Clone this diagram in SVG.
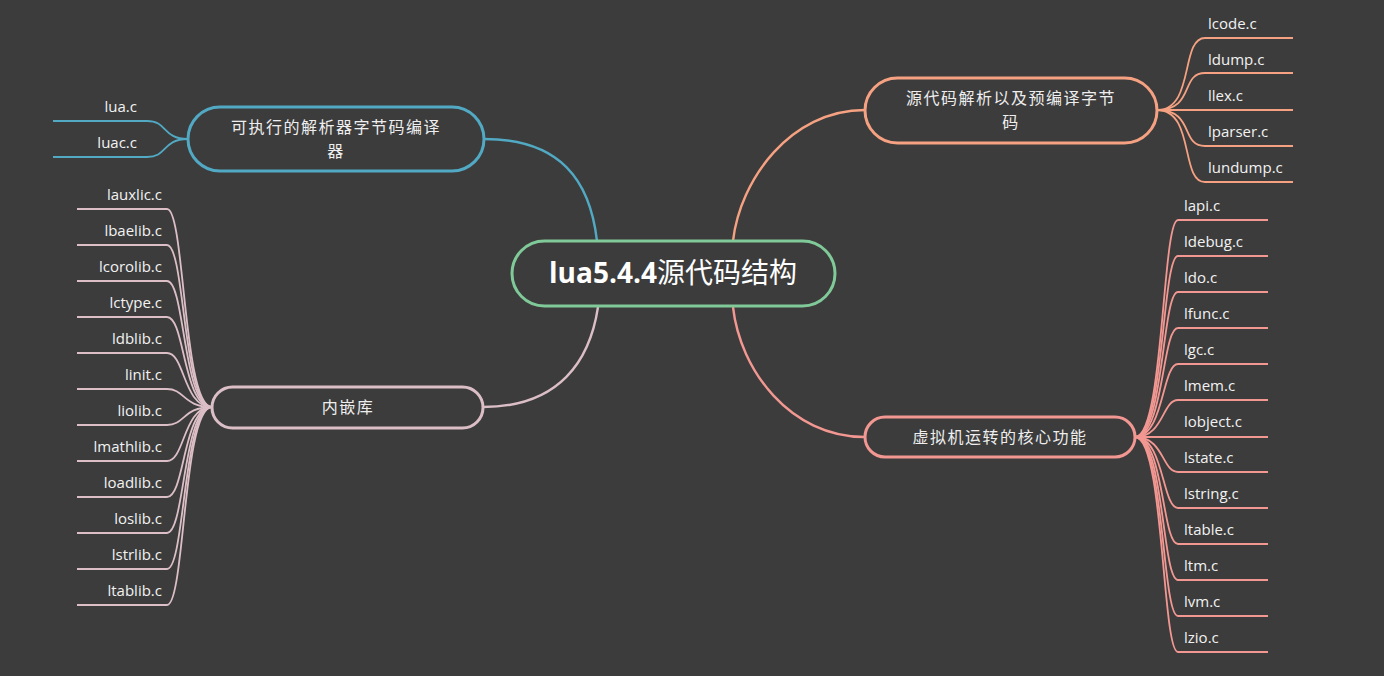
<svg xmlns="http://www.w3.org/2000/svg" width="1384" height="676" viewBox="0 0 1384 676">
<style>
.bg{fill:#3c3c3c}
.node{fill:#3c3c3c;stroke-width:3}
.c{fill:none;stroke-width:2.4}
.cl{fill:none;stroke-width:1.8}
.zh{font-family:"Noto Sans CJK SC","Noto Sans",sans-serif;font-size:16px;fill:#eeeeee;text-anchor:middle;letter-spacing:1.5px}
.lbl{font-family:"Open Sans","Noto Sans",sans-serif;font-size:15px;fill:#f2f2f2}
.r{text-anchor:end}
.blue{stroke:#52a9c3}
.orange{stroke:#f6a282}
.pink{stroke:#f29792}
.lpink{stroke:#dbbec6}
.green{stroke:#80c998}
</style>
<rect class="bg" x="0" y="0" width="1384" height="676"/>
<g id="connectors">
<path class="c blue" d="M484,139 C560,139 590,180 597,241"/>
<path class="c orange" d="M865,110 C790,110 740,180 733,241"/>
<path class="c lpink" d="M483,407 C560,407 590,360 598,307"/>
<path class="c pink" d="M865,437 C790,437 740,370 733,307"/>
<g class="blue">
<path class="cl" d="M188,139 C162,139 168,121 147,121 L53,121"/>
<path class="cl" d="M188,139 C162,139 168,157 147,157 L53,157"/>
</g>
<g class="orange">
<path class="cl" d="M1157,110 C1195,110 1180,38 1205,38 L1293,38"/>
<path class="cl" d="M1157,110 C1195,110 1180,73 1205,73 L1293,73"/>
<path class="cl" d="M1157,110 L1293,110"/>
<path class="cl" d="M1157,110 C1195,110 1180,146 1205,146 L1293,146"/>
<path class="cl" d="M1157,110 C1195,110 1180,182 1205,182 L1293,182"/>
</g>
<g class="lpink">
<path class="cl" d="M212,407 C183,407 185,209 167,209 L77,209"/>
<path class="cl" d="M212,407 C183,407 185,245 167,245 L77,245"/>
<path class="cl" d="M212,407 C183,407 185,281 167,281 L77,281"/>
<path class="cl" d="M212,407 C183,407 185,317 167,317 L77,317"/>
<path class="cl" d="M212,407 C183,407 185,353 167,353 L77,353"/>
<path class="cl" d="M212,407 C183,407 185,389 167,389 L77,389"/>
<path class="cl" d="M212,407 C183,407 185,425 167,425 L77,425"/>
<path class="cl" d="M212,407 C183,407 185,461 167,461 L77,461"/>
<path class="cl" d="M212,407 C183,407 185,497 167,497 L77,497"/>
<path class="cl" d="M212,407 C183,407 185,533 167,533 L77,533"/>
<path class="cl" d="M212,407 C183,407 185,569 167,569 L77,569"/>
<path class="cl" d="M212,407 C183,407 185,605 167,605 L77,605"/>
</g>
<g class="pink">
<path class="cl" d="M1135,437 C1164,437 1162,220 1178,220 L1268,220"/>
<path class="cl" d="M1135,437 C1164,437 1162,256 1178,256 L1268,256"/>
<path class="cl" d="M1135,437 C1164,437 1162,292 1178,292 L1268,292"/>
<path class="cl" d="M1135,437 C1164,437 1162,328 1178,328 L1268,328"/>
<path class="cl" d="M1135,437 C1164,437 1162,364 1178,364 L1268,364"/>
<path class="cl" d="M1135,437 C1164,437 1162,400 1178,400 L1268,400"/>
<path class="cl" d="M1135,437 L1268,437"/>
<path class="cl" d="M1135,437 C1164,437 1162,472 1178,472 L1268,472"/>
<path class="cl" d="M1135,437 C1164,437 1162,508 1178,508 L1268,508"/>
<path class="cl" d="M1135,437 C1164,437 1162,544 1178,544 L1268,544"/>
<path class="cl" d="M1135,437 C1164,437 1162,580 1178,580 L1268,580"/>
<path class="cl" d="M1135,437 C1164,437 1162,616 1178,616 L1268,616"/>
<path class="cl" d="M1135,437 C1164,437 1162,652 1178,652 L1268,652"/>
</g>
</g>
<g id="root">
<rect class="node green" x="512" y="241" width="323" height="65" rx="32.5"/>
<text x="673" y="283" text-anchor="middle" font-family="'Open Sans','Noto Sans CJK SC',sans-serif" font-size="28" font-weight="bold" fill="#ffffff"><tspan>lua5.4.4</tspan><tspan font-weight="normal" font-family="'Noto Sans CJK SC',sans-serif">源代码结构</tspan></text>
</g>
<g id="n-exec">
<rect class="node blue" x="188" y="107" width="296" height="64" rx="32"/>
<text class="zh" x="336" y="133">可执行的解析器字节码编译</text>
<text class="zh" x="336" y="157">器</text>
</g>
<g id="n-parse">
<rect class="node orange" x="865" y="78" width="292" height="65" rx="32.5"/>
<text class="zh" x="1011" y="104">源代码解析以及预编译字节</text>
<text class="zh" x="1011" y="128">码</text>
</g>
<g id="n-lib">
<rect class="node lpink" x="212" y="387" width="271" height="41" rx="20.5"/>
<text class="zh" x="348" y="413">内嵌库</text>
</g>
<g id="n-vm">
<rect class="node pink" x="865" y="417" width="270" height="40" rx="20"/>
<text class="zh" x="1000" y="443">虚拟机运转的核心功能</text>
</g>
<g id="leaves-exec">
<text class="lbl r" x="137" y="112">lua.c</text>
<text class="lbl r" x="137" y="148">luac.c</text>
</g>
<g id="leaves-parse">
<text class="lbl" x="1208" y="29">lcode.c</text>
<text class="lbl" x="1208" y="65">ldump.c</text>
<text class="lbl" x="1208" y="101">llex.c</text>
<text class="lbl" x="1208" y="137">lparser.c</text>
<text class="lbl" x="1208" y="173">lundump.c</text>
</g>
<g id="leaves-lib">
<text class="lbl r" x="162" y="200">lauxlic.c</text>
<text class="lbl r" x="162" y="236">lbaelib.c</text>
<text class="lbl r" x="162" y="272">lcorolib.c</text>
<text class="lbl r" x="162" y="308">lctype.c</text>
<text class="lbl r" x="162" y="344">ldblib.c</text>
<text class="lbl r" x="162" y="380">linit.c</text>
<text class="lbl r" x="162" y="416">liolib.c</text>
<text class="lbl r" x="162" y="452">lmathlib.c</text>
<text class="lbl r" x="162" y="488">loadlib.c</text>
<text class="lbl r" x="162" y="524">loslib.c</text>
<text class="lbl r" x="162" y="560">lstrlib.c</text>
<text class="lbl r" x="162" y="596">ltablib.c</text>
</g>
<g id="leaves-vm">
<text class="lbl" x="1184" y="211">lapi.c</text>
<text class="lbl" x="1184" y="247">ldebug.c</text>
<text class="lbl" x="1184" y="283">ldo.c</text>
<text class="lbl" x="1184" y="319">lfunc.c</text>
<text class="lbl" x="1184" y="355">lgc.c</text>
<text class="lbl" x="1184" y="391">lmem.c</text>
<text class="lbl" x="1184" y="427">lobject.c</text>
<text class="lbl" x="1184" y="463">lstate.c</text>
<text class="lbl" x="1184" y="499">lstring.c</text>
<text class="lbl" x="1184" y="535">ltable.c</text>
<text class="lbl" x="1184" y="571">ltm.c</text>
<text class="lbl" x="1184" y="607">lvm.c</text>
<text class="lbl" x="1184" y="643">lzio.c</text>
</g>
</svg>
